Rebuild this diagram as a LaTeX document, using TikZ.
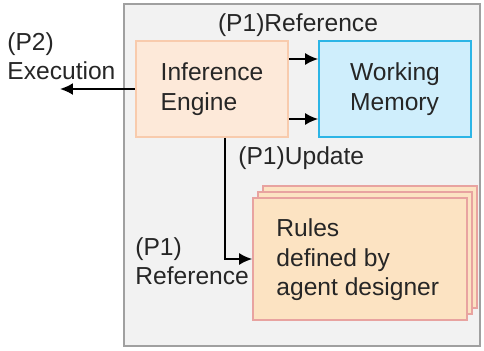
\documentclass[tikz,border=0pt]{standalone}
\usepackage{fontspec}
\setmainfont{Liberation Sans}
\usepackage{tikz}
\usetikzlibrary{calc,arrows.meta}
\definecolor{panelfill}{HTML}{F2F2F2}
\definecolor{paneldraw}{HTML}{A0A0A0}
\definecolor{enginefill}{HTML}{FDE9D9}
\definecolor{enginedraw}{HTML}{F8CBAD}
\definecolor{memfill}{HTML}{CFEEFC}
\definecolor{memdraw}{HTML}{2CB5E6}
\definecolor{rulefill}{HTML}{FCE3C2}
\definecolor{ruledraw}{HTML}{E8A3A0}
\tikzset{
x=0.5pt, y=-0.5pt,
every node/.style={font=\fontsize{12.3}{14.7}\selectfont, text=black!85},
module/.style={rectangle, minimum width=76pt, minimum height=48pt, inner sep=0pt, line width=0.8pt, align=left},
engine/.style={module, draw=enginedraw, fill=enginefill},
memory/.style={module, draw=memdraw, fill=memfill},
rulecard/.style={rectangle, minimum width=107pt, minimum height=61pt, inner sep=0pt, line width=0.8pt, draw=ruledraw, fill=rulefill},
flow/.style={line width=1pt, -{Latex[length=6.5pt,width=6pt]}},
}
\tikzstyle{label} = [inner sep=0pt, align=left]

\begin{document}
\begin{tikzpicture}
\useasboundingbox (0,0) rectangle (484,350);
\draw[fill=panelfill, draw=paneldraw, line width=0.8pt] (124,4) rectangle (480,346);
\node[engine] (IE) at (212,89) {Inference\\Engine};
\node[memory] (WM) at (395,89) {Working\\Memory};
\node[rulecard] (R3) at (370,247) {};
\node[rulecard] (R2) at (365,253) {};
\node[rulecard] (R) at (360,259) {};
\node[label, anchor=west] (RT) at (276,260) {Rules\\defined by\\agent designer};
\coordinate (X) at (60,89);
\draw[flow] ([yshift=15pt]IE.east) -- ([yshift=15pt]WM.west);
\draw[flow] ([yshift=-15pt]IE.east) -- ([yshift=-15pt]WM.west);
\draw[flow] (IE.west) -- (X);
\draw[flow] ([xshift=6.5pt]IE.south) |- (R.west);
\node[label] (P1ref) at (298,25) {(P1)Reference};
\node[label, anchor=west] (P2) at (7,56) {(P2)\\Execution};
\node[label, anchor=west] (P1up) at (238,158) {(P1)Update};
\node[label, anchor=west] (P1rule) at (135,261) {(P1)\\Reference};
\end{tikzpicture}
\end{document}
